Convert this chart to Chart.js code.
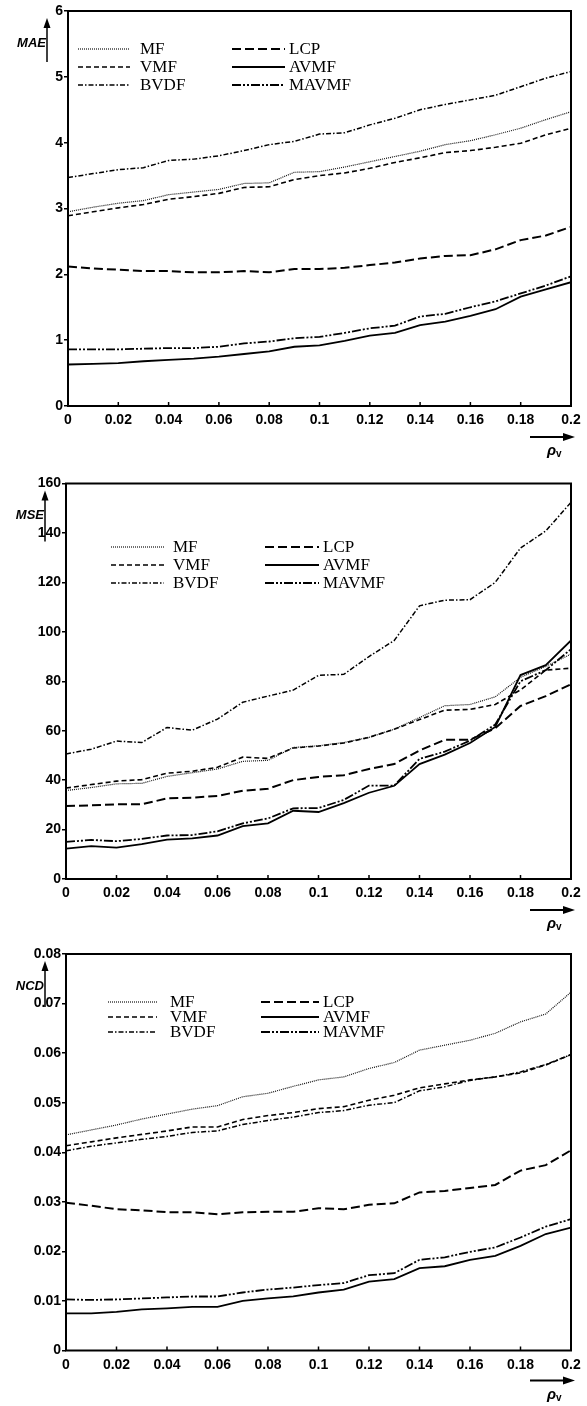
<!DOCTYPE html>
<html><head><meta charset="utf-8">
<script src="https://cdn.jsdelivr.net/npm/chart.js@4.4.1/dist/chart.umd.min.js"></script>
<style>
html,body{margin:0;padding:0;background:#fff;}
body{width:587px;height:1406px;position:relative;overflow:hidden;}
.wrap{position:absolute;left:0;width:587px;}
canvas{display:block;}
</style></head><body>
<div class="wrap" style="top:0;height:470px"><canvas id="c1" width="587" height="470"></canvas></div>
<div class="wrap" style="top:470px;height:470px"><canvas id="c2" width="587" height="470"></canvas></div>
<div class="wrap" style="top:940px;height:466px"><canvas id="c3" width="587" height="466"></canvas></div>
<script>
// ---------- data ----------
const pv = [0,0.01,0.02,0.03,0.04,0.05,0.06,0.07,0.08,0.09,0.1,0.11,0.12,0.13,0.14,0.15,0.16,0.17,0.18,0.19,0.2];
const xTickLabels = ['0','0.02','0.04','0.06','0.08','0.1','0.12','0.14','0.16','0.18','0.2'];
const seriesNames = ['MF','VMF','BVDF','LCP','AVMF','MAVMF'];

// MAE
const maeTicks = ['0','1','2','3','4','5','6'];
const maeMF    = [2.95,3.02,3.08,3.12,3.21,3.25,3.29,3.38,3.39,3.55,3.56,3.63,3.71,3.79,3.87,3.97,4.03,4.12,4.22,4.35,4.47];
const maeVMF   = [2.89,2.95,3.01,3.06,3.14,3.18,3.23,3.32,3.33,3.44,3.50,3.54,3.61,3.70,3.77,3.85,3.88,3.93,3.99,4.12,4.22];
const maeBVDF  = [3.47,3.53,3.59,3.62,3.73,3.75,3.80,3.88,3.97,4.02,4.13,4.15,4.27,4.37,4.50,4.58,4.65,4.72,4.85,4.98,5.08];
const maeLCP   = [2.12,2.09,2.07,2.05,2.05,2.03,2.03,2.05,2.03,2.08,2.08,2.10,2.14,2.18,2.24,2.28,2.29,2.38,2.52,2.59,2.72];
const maeAVMF  = [0.63,0.64,0.65,0.68,0.70,0.72,0.75,0.79,0.83,0.90,0.92,0.99,1.07,1.11,1.23,1.28,1.37,1.47,1.66,1.77,1.88];
const maeMAVMF = [0.86,0.86,0.86,0.87,0.88,0.88,0.90,0.95,0.98,1.03,1.05,1.11,1.18,1.22,1.36,1.40,1.50,1.59,1.71,1.83,1.97];

// MSE
const mseTicks = ['0','20','40','60','80','100','120','140','160'];
const mseMF    = [35.8,37.0,38.5,38.7,41.5,43.0,44.5,47.6,48.0,53.2,53.9,55.2,57.3,60.6,65.3,70.1,70.6,73.7,81.6,86.0,91.0];
const mseVMF   = [36.8,38.2,39.6,40.2,42.8,43.6,45.2,49.3,48.8,53.0,53.8,55.0,57.3,60.6,64.5,68.3,68.6,70.6,76.5,84.5,85.3];
const mseBVDF  = [50.6,52.5,55.8,55.2,61.3,60.2,64.7,71.5,74.0,76.4,82.4,82.8,90.0,96.5,110.5,112.8,113.0,120.0,133.9,140.8,152.4];
const mseLCP   = [29.5,29.8,30.2,30.2,32.6,32.9,33.6,35.7,36.5,40.0,41.3,42.0,44.5,46.5,52.0,56.3,56.3,61.0,70.0,74.0,78.8];
const mseAVMF  = [12.3,13.3,12.7,14.1,15.9,16.4,17.6,21.4,22.5,27.6,27.1,30.7,34.9,37.7,46.5,50.3,55.0,61.5,82.5,86.5,96.5];
const mseMAVMF = [15.0,15.8,15.3,16.2,17.6,17.8,19.3,22.5,24.5,28.6,28.7,32.0,37.8,37.8,48.6,51.5,56.0,62.5,80.0,84.5,93.0];

// NCD
const ncdTicks = ['0','0.01','0.02','0.03','0.04','0.05','0.06','0.07','0.08'];
const ncdMF    = [0.0435,0.0445,0.0455,0.0467,0.0477,0.0487,0.0494,0.0512,0.0519,0.0533,0.0546,0.0552,0.0569,0.0581,0.0606,0.0616,0.0626,0.0640,0.0663,0.0679,0.0723];
const ncdVMF   = [0.0413,0.0421,0.0429,0.0436,0.0443,0.0451,0.0451,0.0466,0.0474,0.0480,0.0488,0.0492,0.0505,0.0515,0.0530,0.0538,0.0546,0.0552,0.0560,0.0576,0.0597];
const ncdBVDF  = [0.0403,0.0412,0.0419,0.0426,0.0432,0.0440,0.0443,0.0456,0.0464,0.0471,0.0480,0.0484,0.0495,0.0500,0.0524,0.0532,0.0545,0.0552,0.0562,0.0577,0.0597];
const ncdLCP   = [0.0298,0.0292,0.0285,0.0283,0.0279,0.0279,0.0275,0.0279,0.0280,0.0280,0.0287,0.0285,0.0294,0.0297,0.0319,0.0322,0.0328,0.0334,0.0363,0.0374,0.0404];
const ncdAVMF  = [0.0075,0.0075,0.0078,0.0083,0.0085,0.0088,0.0088,0.0100,0.0105,0.0109,0.0117,0.0123,0.0139,0.0144,0.0166,0.0170,0.0183,0.0191,0.0211,0.0235,0.0248];
const ncdMAVMF = [0.0103,0.0102,0.0103,0.0105,0.0107,0.0109,0.0109,0.0117,0.0123,0.0127,0.0132,0.0136,0.0152,0.0156,0.0183,0.0188,0.0199,0.0208,0.0228,0.0250,0.0265];

// ---------- styles ----------
const lineStyles = [
  {borderWidth:1.2, borderDash:[1,1],   borderColor:'#111'},      // MF dotted
  {borderWidth:1.6, borderDash:[5,3],   borderColor:'#000'},      // VMF dashed
  {borderWidth:1.5, borderDash:[5,2,1.5,2], borderColor:'#000'},  // BVDF dash-dot
  {borderWidth:2.0, borderDash:[9,4],   borderColor:'#000'},      // LCP long dash
  {borderWidth:1.8, borderDash:[],      borderColor:'#000'},      // AVMF solid
  {borderWidth:1.8, borderDash:[9,2,2,2,2,2], borderColor:'#000'} // MAVMF dash-dot-dot
];

Chart.defaults.color = '#000';
Chart.defaults.font.family = '"Liberation Sans", Arial, sans-serif';

const decorPlugin = {
  id: 'decor',
  afterDatasetsDraw(chart, args, o) {
    const {ctx, chartArea: a, scales} = chart;
    ctx.save();
    // frame
    ctx.strokeStyle = '#000';
    ctx.lineWidth = 2;
    ctx.strokeRect(a.left, a.top, a.right - a.left, a.bottom - a.top);
    // inside x ticks
    const xs = scales.x;
    ctx.lineWidth = 1.5;
    xs.ticks.forEach(t => {
      const px = xs.getPixelForValue(t.value);
      ctx.beginPath(); ctx.moveTo(px, a.bottom); ctx.lineTo(px, a.bottom - 4); ctx.stroke();
    });
    // y title with arrow
    ctx.fillStyle = '#000';
    ctx.font = 'italic bold 13px "Liberation Sans", Arial, sans-serif';
    ctx.textAlign = 'right'; ctx.textBaseline = 'middle';
    ctx.fillText(o.yTitle, a.left - 22, a.top + 32);
    const ax = a.left - 21;
    ctx.lineWidth = 1.5;
    ctx.beginPath(); ctx.moveTo(ax, a.top + o.arrowBottom); ctx.lineTo(ax, a.top + 15); ctx.stroke();
    ctx.beginPath(); ctx.moveTo(ax, a.top + 7); ctx.lineTo(ax - 3.5, a.top + 17); ctx.lineTo(ax + 3.5, a.top + 17); ctx.closePath(); ctx.fill();
    // x title arrow + rho_v
    const ay = a.bottom + o.xArrowDy;
    ctx.lineWidth = 2;
    ctx.beginPath(); ctx.moveTo(a.right - 41, ay); ctx.lineTo(a.right - 4, ay); ctx.stroke();
    ctx.beginPath(); ctx.moveTo(a.right + 4, ay); ctx.lineTo(a.right - 8, ay - 4); ctx.lineTo(a.right - 8, ay + 4); ctx.closePath(); ctx.fill();
    ctx.textAlign = 'left'; ctx.textBaseline = 'alphabetic';
    ctx.font = 'italic bold 15px "Liberation Sans", Arial, sans-serif';
    ctx.fillText('ρ', a.right - 24, ay + 18);
    ctx.font = 'bold 10px "Liberation Sans", Arial, sans-serif';
    ctx.fillText('v', a.right - 15, ay + 20);
    // legend
    const L = o.legend;
    ctx.font = '17px "Liberation Serif", "Times New Roman", serif';
    ctx.textBaseline = 'middle';
    chart.data.datasets.forEach((ds, i) => {
      const col = Math.floor(i / 3), row = i % 3;
      const y = L.rows[row];
      const c = L.cols[col];
      ctx.strokeStyle = ds.borderColor;
      ctx.lineWidth = ds.borderWidth;
      ctx.setLineDash(ds.borderDash);
      ctx.beginPath(); ctx.moveTo(c[0], y); ctx.lineTo(c[1], y); ctx.stroke();
      ctx.setLineDash([]);
      ctx.fillText(ds.label, c[2], y + 1);
    });
    ctx.restore();
  }
};

function makeChart(id, cfg) {
  const datasets = cfg.series.map((arr, i) => Object.assign({
    label: seriesNames[i],
    data: pv.map((x, j) => ({x: x, y: arr[j]})),
    pointRadius: 0, tension: 0, fill: false
  }, lineStyles[i]));
  return new Chart(document.getElementById(id), {
    type: 'line',
    data: { datasets },
    options: {
      responsive: false, animation: false, devicePixelRatio: 1,
      layout: { padding: { top: cfg.top, right: 16, left: 0, bottom: 0 } },
      plugins: { legend: { display: false }, tooltip: { enabled: false },
        decor: { yTitle: cfg.yTitle, arrowBottom: cfg.arrowBottom, xArrowDy: cfg.xArrowDy, legend: cfg.legend } },
      scales: {
        x: {
          type: 'linear', min: 0, max: 0.2,
          border: { display: false },
          grid: { display: false, drawTicks: false },
          ticks: { stepSize: 0.02, padding: 6, maxRotation: 0, autoSkip: false,
            font: { size: 14, weight: 'bold' },
            callback: v => xTickLabels[Math.round(v / 0.02)] },
          afterFit: s => { s.height = cfg.xAxisH; }
        },
        y: {
          min: cfg.yMin, max: cfg.yMax,
          border: { display: false },
          grid: { drawOnChartArea: false, drawTicks: true, tickLength: 4, tickColor: '#000', lineWidth: 1.5 },
          ticks: { stepSize: cfg.yStep, padding: 1, autoSkip: false,
            font: { size: 14, weight: 'bold' },
            callback: v => cfg.yTicks[Math.round(v / cfg.yStep)] },
          afterFit: s => { s.width = cfg.yAxisW; }
        }
      }
    },
    plugins: [decorPlugin]
  });
}

makeChart('c1', {
  series: [maeMF, maeVMF, maeBVDF, maeLCP, maeAVMF, maeMAVMF],
  yMin: 0, yMax: 6, yStep: 1, yTicks: maeTicks, yTitle: 'MAE',
  top: 11, yAxisW: 68, xAxisH: 64, arrowBottom: 51, xArrowDy: 31,
  legend: { rows: [49, 67, 85], cols: [[78, 130, 140], [232, 285, 289]] }
});
makeChart('c2', {
  series: [mseMF, mseVMF, mseBVDF, mseLCP, mseAVMF, mseMAVMF],
  yMin: 0, yMax: 160, yStep: 20, yTicks: mseTicks, yTitle: 'MSE',
  top: 13.5, yAxisW: 66, xAxisH: 61, arrowBottom: 58, xArrowDy: 31,
  legend: { rows: [77, 95, 113], cols: [[111, 164, 173], [265, 319, 323]] }
});
makeChart('c3', {
  series: [ncdMF, ncdVMF, ncdBVDF, ncdLCP, ncdAVMF, ncdMAVMF],
  yMin: 0, yMax: 0.08, yStep: 0.01, yTicks: ncdTicks, yTitle: 'NCD',
  top: 14, yAxisW: 66, xAxisH: 55.5, arrowBottom: 53, xArrowDy: 30,
  legend: { rows: [62, 77, 92], cols: [[108, 157, 170], [261, 319, 323]] }
});
</script>
</body></html>
